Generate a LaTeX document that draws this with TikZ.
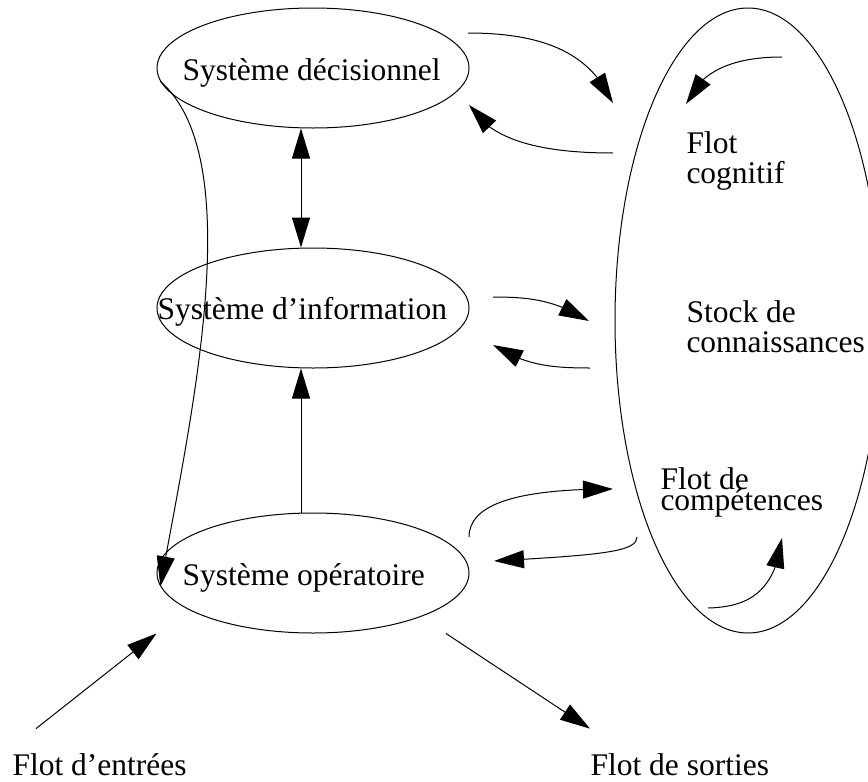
\documentclass[tikz,border=0pt]{standalone}
\usepackage{fontspec}
\setmainfont{Liberation Serif}
\usepackage{tikz}
\usetikzlibrary{arrows.meta}
\usetikzlibrary{bending}
\usetikzlibrary{shapes.geometric}

\begin{document}
\begin{tikzpicture}[x=0.5pt, y=-0.5pt, line width=0.5pt,
  >={Triangle[length=15pt, width=9pt]},
  font=\fontsize{15.75}{15}\selectfont,
  sys/.style={draw, ellipse, minimum width=156pt, minimum height=60pt, inner sep=0pt},
  txt/.style={anchor=base west, inner sep=0pt, align=left}]

\useasboundingbox (0,0) rectangle (868,782);

% SYSTEMS

\node[sys] (dec) at (313,68) {};
\node[sys] (info) at (313,308) {};
\node[sys] (ope) at (313,573) {};

\node[txt] at (182,80) {Système décisionnel};
\node[txt] at (157,319) {Système d’information};
\node[txt] at (182,585) {Système opératoire};

% decision <-> information <- operations
\draw [<->] ([xshift=-6pt]dec.south) -- ([xshift=-6pt]info.north);
\draw [->] ([xshift=-6pt]ope.north) -- ([xshift=-6pt]info.south);
\draw [->] (dec.185) .. controls (250,160) and (190,420) .. (ope.185);


% KNOWLEDGE STOCK

\node[draw, ellipse, minimum width=133pt, minimum height=312.5pt, inner sep=0pt] (stock) at (748,320.5) {};

% (base = last line)
\node[txt] at (686,183) {Flot\\cognitif};
\node[txt] at (686,352) {Stock de\\connaissances};
\node[txt] at (660,510) {Flot de\\[-4.5pt]compétences};

% free ends of the flows
\coordinate (d1) at (468,33);
\coordinate (s1) at (613,103);
\coordinate (s2) at (613,153);
\coordinate (d2) at (469,105);
\coordinate (i1) at (493,297);
\coordinate (s3) at (589,321);
\coordinate (s4) at (590,368);
\coordinate (i2) at (493,345);
\coordinate (o1) at (469,537);
\coordinate (s5) at (613,489);
\coordinate (s6) at (637,537);
\coordinate (o2) at (494,561);
\coordinate (c1) at (782,57);
\coordinate (c2) at (686,104);
\coordinate (k1) at (708,608);
\coordinate (k2) at (782,538);

% systems <-> stock
\draw [->] (d1) .. controls (555,33) and (593,60) .. (s1);
\draw [->] (s2) .. controls (540,153) and (490,140) .. (d2);
\draw [->] (i1) .. controls (530,297) and (555,300) .. (s3);
\draw [->] (s4) .. controls (550,368) and (525,365) .. (i2);
\draw [->] (o1) .. controls (469,500) and (530,489) .. (s5);
\draw [->] (s6) .. controls (637,552) and (600,555) .. (o2);

% inside the stock
\draw [->] (c1) .. controls (735,57) and (700,70) .. (c2);
\draw [->] (k1) .. controls (745,607) and (775,595) .. (k2);


% INPUTS AND OUTPUTS

\node[txt] (entree) at (12,775) {Flot d’entrées};
\node[txt] (sortie) at (590,775) {Flot de sorties};

\draw [->] ([shift={(12pt,12pt)}]entree.north west) -- (ope.west |- ope.south);
\draw [->] ([xshift=66.5pt]ope.south) -- ([yshift=12pt]sortie.north west);

\end{tikzpicture}
\end{document}
